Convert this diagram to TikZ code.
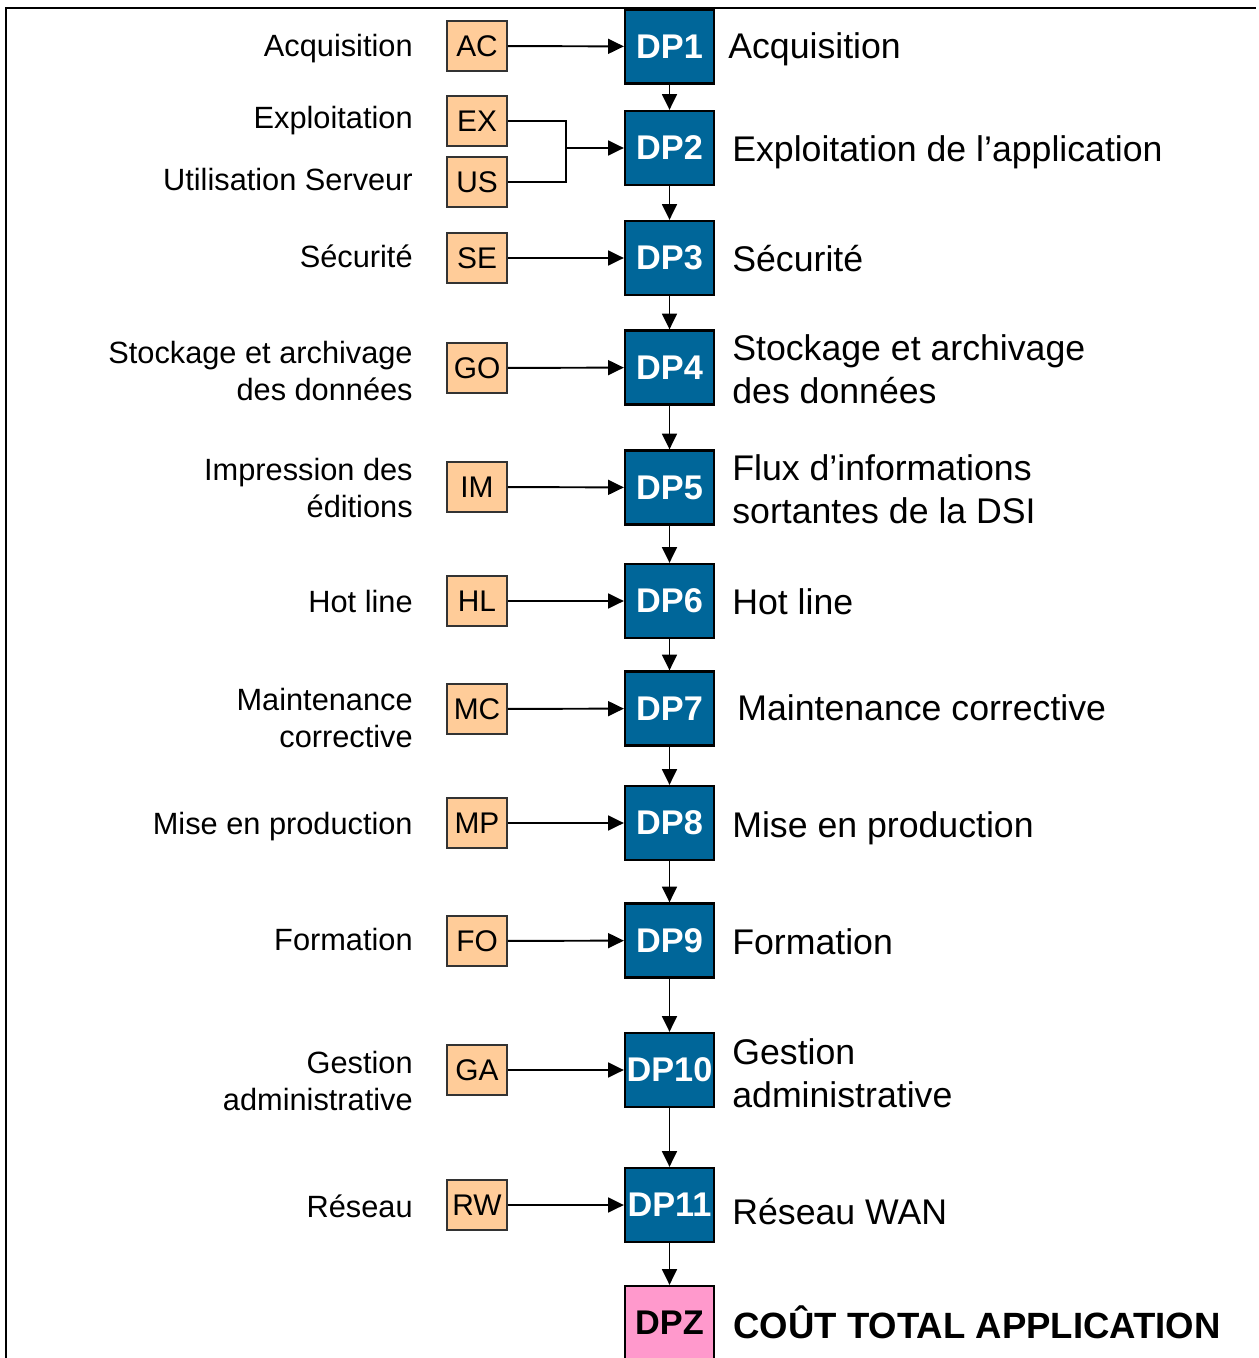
\documentclass[tikz,border=0pt]{standalone}
\usepackage{fontspec}
\setmainfont{Liberation Sans}
\usetikzlibrary{arrows.meta}
\definecolor{dpblue}{RGB}{0,102,153}
\definecolor{inorange}{RGB}{255,204,153}
\definecolor{dppink}{RGB}{255,153,204}

\begin{document}
\begin{tikzpicture}[x=0.02cm,y=-0.02cm,
	dpbox/.style={draw=black, line width=1.3pt, fill=dpblue, text=white, minimum width=1.78cm, minimum height=1.48cm, inner sep=0pt, font=\fontsize{19.5}{23}\selectfont\bfseries},
	inbox/.style={draw=black!80, line width=1.1pt, fill=inorange, minimum width=1.2cm, minimum height=1cm, inner sep=0pt, font=\fontsize{17}{20}\selectfont},
	leftlab/.style={anchor=east, inner sep=0pt, align=right, font=\fontsize{17.5}{21}\selectfont},
	rightlab/.style={anchor=west, inner sep=0pt, align=left, font=\fontsize{20.3}{24.4}\selectfont},
	link/.style={line width=1.1pt, -{Triangle[length=9pt,width=8.5pt]}}]
	\useasboundingbox (0,0) rectangle (1258,1358);
	%frame
	\draw[line width=1.7pt] (6,1358) -- (6,8) -- (1256,8);

	%Acquisition
	\node[leftlab] (l1) at (413,49) {Acquisition};
	\node[inbox] (AC) at (477,46) {AC};
	\node[dpbox] (DP1) at (669.5,46.5) {DP1};
	\node[rightlab] (r1) at (728,49) {Acquisition};

	%Exploitation
	\node[leftlab] (l2a) at (413,121) {Exploitation};
	\node[leftlab] (l2b) at (413,180) {Utilisation Serveur};
	\node[inbox] (EX) at (477,121) {EX};
	\node[inbox] (US) at (477,182) {US};
	\node[dpbox] (DP2) at (669.5,148) {DP2};
	\node[rightlab] (r2) at (732,152) {Exploitation de l’application};
	\coordinate (J) at (566,148);

	%Securite
	\node[leftlab] (l3) at (413,256) {Sécurité};
	\node[inbox] (SE) at (477,258) {SE};
	\node[dpbox] (DP3) at (669.5,258) {DP3};
	\node[rightlab] (r3) at (732,259) {Sécurité};

	%Stockage
	\node[leftlab] (l4) at (413,371) {Stockage et archivage\\des données};
	\node[inbox] (GO) at (477,368) {GO};
	\node[dpbox] (DP4) at (669.5,367.5) {DP4};
	\node[rightlab] (r4) at (732,369) {Stockage et archivage\\des données};

	%Impression
	\node[leftlab] (l5) at (413,488) {Impression des\\éditions};
	\node[inbox] (IM) at (477,487) {IM};
	\node[dpbox] (DP5) at (669.5,487.5) {DP5};
	\node[rightlab] (r5) at (732,489) {Flux d’informations\\sortantes de la DSI};

	%Hot line
	\node[leftlab] (l6) at (413,602) {Hot line};
	\node[inbox] (HL) at (477,601) {HL};
	\node[dpbox] (DP6) at (669.5,601) {DP6};
	\node[rightlab] (r6) at (732,602) {Hot line};

	%Maintenance
	\node[leftlab] (l7) at (413,718) {Maintenance\\corrective};
	\node[inbox] (MC) at (477,709) {MC};
	\node[dpbox] (DP7) at (669.5,708.5) {DP7};
	\node[rightlab] (r7) at (737,708) {Maintenance corrective};

	%Mise en production
	\node[leftlab] (l8) at (413,827) {Mise en production};
	\node[inbox] (MP) at (477,823) {MP};
	\node[dpbox] (DP8) at (669.5,823) {DP8};
	\node[rightlab] (r8) at (732,828) {Mise en production};

	%Formation
	\node[leftlab] (l9) at (413,939) {Formation};
	\node[inbox] (FO) at (477,941) {FO};
	\node[dpbox] (DP9) at (669.5,940.5) {DP9};
	\node[rightlab] (r9) at (732,942) {Formation};

	%Gestion
	\node[leftlab] (l10) at (413,1081) {Gestion\\administrative};
	\node[inbox] (GA) at (477,1070) {GA};
	\node[dpbox] (DP10) at (669.5,1070) {DP10};
	\node[rightlab] (r10) at (732,1073) {Gestion\\administrative};

	%Reseau
	\node[leftlab] (l11) at (413,1206) {Réseau};
	\node[inbox] (RW) at (477,1205) {RW};
	\node[dpbox] (DP11) at (669.5,1205) {DP11};
	\node[rightlab] (r11) at (732,1212) {Réseau WAN};

	%Total
	\node[dpbox, fill=dppink, text=black] (DPZ) at (669.5,1323) {DPZ};
	\node[rightlab, font=\fontsize{20.8}{24}\selectfont\bfseries] (rz) at (733,1322) {COÛT TOTAL APPLICATION};

	%inputs
	\draw[link] (AC) -- (DP1);
	\draw[line width=1.1pt] (EX.east) -| (J) |- (US.east);
	\draw[link] (J) -- (DP2);
	\draw[link] (SE) -- (DP3);
	\draw[link] (GO) -- (DP4);
	\draw[link] (IM) -- (DP5);
	\draw[link] (HL) -- (DP6);
	\draw[link] (MC) -- (DP7);
	\draw[link] (MP) -- (DP8);
	\draw[link] (FO) -- (DP9);
	\draw[link] (GA) -- (DP10);
	\draw[link] (RW) -- (DP11);

	%chain
	\draw[link] (DP1) -- (DP2);
	\draw[link] (DP2) -- (DP3);
	\draw[link] (DP3) -- (DP4);
	\draw[link] (DP4) -- (DP5);
	\draw[link] (DP5) -- (DP6);
	\draw[link] (DP6) -- (DP7);
	\draw[link] (DP7) -- (DP8);
	\draw[link] (DP8) -- (DP9);
	\draw[link] (DP9) -- (DP10);
	\draw[link] (DP10) -- (DP11);
	\draw[link] (DP11) -- (DPZ);
\end{tikzpicture}
\end{document}
